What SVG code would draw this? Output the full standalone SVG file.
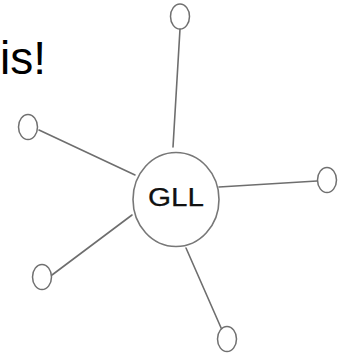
<svg xmlns="http://www.w3.org/2000/svg" width="343" height="355" viewBox="0 0 343 355">
  <style>
    .edge { stroke: #6e6e6e; stroke-width: 1.6; fill: none; stroke-linecap: round; }
    .leaf { fill: #ffffff; stroke: #707070; stroke-width: 1.5; }
    .hub { fill: #ffffff; stroke: #777777; stroke-width: 1.6; }
    .hub-label { font-family: "Liberation Sans", Arial, sans-serif; font-size: 25px; fill: #111111; stroke: #111111; stroke-width: 0.25; }
    .title { font-family: "Liberation Sans", Arial, sans-serif; font-size: 46px; fill: #000000; }
  </style>
  <rect width="343" height="355" fill="#ffffff"/>
  <text class="title" x="0" y="74">is!</text>
  <g id="connectors">
    <line class="edge" x1="180" y1="29" x2="173" y2="147"/>
    <line class="edge" x1="39" y1="130" x2="135" y2="175"/>
    <line class="edge" x1="219" y1="187" x2="317" y2="181"/>
    <line class="edge" x1="52" y1="275" x2="132" y2="215"/>
    <line class="edge" x1="186" y1="248" x2="222" y2="330"/>
  </g>
  <g id="hub">
    <ellipse class="hub" cx="176" cy="199.5" rx="43" ry="47"/>
    <text class="hub-label" x="176" y="206" text-anchor="middle" textLength="56" lengthAdjust="spacingAndGlyphs">GLL</text>
  </g>
  <g id="leaf-top"><ellipse class="leaf" cx="180" cy="16.5" rx="9.5" ry="12.5"/></g>
  <g id="leaf-left"><ellipse class="leaf" cx="28" cy="127" rx="9.5" ry="12.5"/></g>
  <g id="leaf-right"><ellipse class="leaf" cx="327" cy="180" rx="9.5" ry="12.5"/></g>
  <g id="leaf-lower-left"><ellipse class="leaf" cx="42" cy="277" rx="9.5" ry="12.5"/></g>
  <g id="leaf-bottom"><ellipse class="leaf" cx="227" cy="339" rx="9.5" ry="12.5"/></g>
</svg>
